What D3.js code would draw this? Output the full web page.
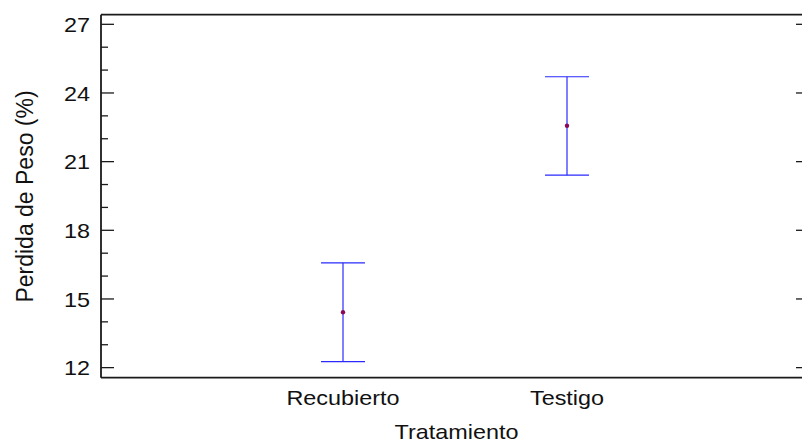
<!DOCTYPE html>
<html>
<head>
<meta charset="utf-8">
<script src="https://cdn.jsdelivr.net/npm/d3@7"></script>
<style>
  html, body { margin: 0; padding: 0; background: #fff; }
  svg { display: block; }
  text { font-family: "Liberation Sans", Arial, sans-serif; fill: #111; }
</style>
</head>
<body>
<svg id="chart" width="802" height="440"></svg>
<script>
// Tratamiento categories and the mean with its interval bounds (Perdida de Peso, %)
const categories = ["Recubierto", "Testigo"];
const means = [14.42, 22.57];
const lowerBounds = [12.26, 20.41];
const upperBounds = [16.58, 24.71];
const yMajorTicks = [12, 15, 18, 21, 24, 27];
const yMinorTicks = [13, 14, 16, 17, 19, 20, 22, 23, 25, 26];
const xTitle = "Tratamiento";
const yTitle = "Perdida de Peso (%)";

const svg = d3.select("#chart");
const plot = { left: 101, right: 803, top: 14.7, bottom: 377.7 };

const y = d3.scaleLinear().domain([11.56, 27.42]).range([plot.bottom, plot.top]);
const x = d3.scalePoint().domain(categories).range([119, 791]).padding(1);

const frameColor = "#1a1a1a";
const barColor = "#2a2aff";
const capHalf = 22;
const stretch = 1.17;

// Frame
const frame = svg.append("g").attr("stroke", frameColor).attr("stroke-width", 1.8);
frame.append("line").attr("x1", plot.left).attr("x2", plot.right).attr("y1", plot.top).attr("y2", plot.top);
frame.append("line").attr("x1", plot.left).attr("x2", plot.right).attr("y1", plot.bottom).attr("y2", plot.bottom);
frame.append("line").attr("x1", plot.left).attr("x2", plot.left).attr("y1", plot.top).attr("y2", plot.bottom);

// Left axis ticks (inward) and labels
const ticks = svg.append("g").attr("stroke", frameColor).attr("stroke-width", 1.3);
ticks.selectAll(".major").data(yMajorTicks).join("line")
  .attr("x1", plot.left).attr("x2", plot.left + 13)
  .attr("y1", d => y(d)).attr("y2", d => y(d));
ticks.selectAll(".minor").data(yMinorTicks).join("line")
  .attr("x1", plot.left).attr("x2", plot.left + 7)
  .attr("y1", d => y(d)).attr("y2", d => y(d));
// Right axis ticks (inward)
ticks.selectAll(".right").data(yMajorTicks).join("line")
  .attr("x1", 796).attr("x2", 803)
  .attr("y1", d => y(d)).attr("y2", d => y(d));

svg.append("g").selectAll("text").data(yMajorTicks).join("text")
  .attr("transform", d => `translate(90,${y(d) + 7.8}) scale(${stretch},1)`)
  .attr("text-anchor", "end")
  .attr("font-size", 20)
  .text(d => d);

// Category labels
svg.append("g").selectAll("text").data(categories).join("text")
  .attr("transform", d => `translate(${x(d)},404.5) scale(${stretch},1)`)
  .attr("text-anchor", "middle")
  .attr("font-size", 20)
  .text(d => d);

// Axis titles
svg.append("text")
  .attr("transform", `translate(${(plot.left + 802) / 2 + 5},438.6) scale(${stretch},1)`)
  .attr("text-anchor", "middle")
  .attr("font-size", 20)
  .text(xTitle);

svg.append("text")
  .attr("transform", `translate(32.5,196.5) scale(1.08,1) rotate(-90)`)
  .attr("text-anchor", "middle")
  .attr("font-size", 23)
  .text(yTitle);

// Interval bars with mean markers
const rows = categories.map((c, i) => ({ c, mean: means[i], lo: lowerBounds[i], hi: upperBounds[i] }));
const bars = svg.append("g").selectAll("g").data(rows).join("g");
bars.append("line")
  .attr("x1", d => x(d.c)).attr("x2", d => x(d.c))
  .attr("y1", d => y(d.hi)).attr("y2", d => y(d.lo))
  .attr("stroke", barColor).attr("stroke-width", 1.2);
bars.append("line")
  .attr("x1", d => x(d.c) - capHalf).attr("x2", d => x(d.c) + capHalf)
  .attr("y1", d => y(d.hi)).attr("y2", d => y(d.hi))
  .attr("stroke", barColor).attr("stroke-width", 1.2);
bars.append("line")
  .attr("x1", d => x(d.c) - capHalf).attr("x2", d => x(d.c) + capHalf)
  .attr("y1", d => y(d.lo)).attr("y2", d => y(d.lo))
  .attr("stroke", barColor).attr("stroke-width", 1.2);
bars.append("circle")
  .attr("cx", d => x(d.c)).attr("cy", d => y(d.mean))
  .attr("r", 2.2)
  .attr("fill", "#8a0a55");
</script>
</body>
</html>
